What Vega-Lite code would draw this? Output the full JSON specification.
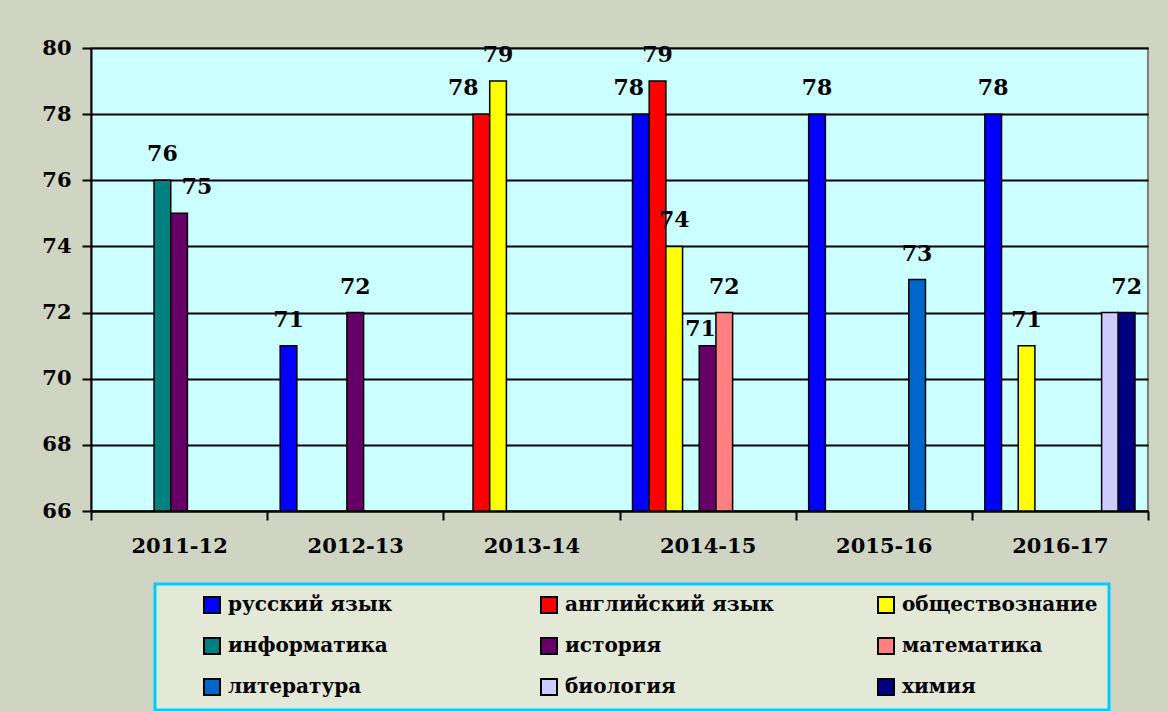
{
  "$schema": "https://vega.github.io/schema/vega-lite/v6.json",
  "width": 1057,
  "height": 463,
  "autosize": {"type": "none"},
  "padding": {"left": 91, "top": 48, "right": 20, "bottom": 200},
  "background": "#CFD4C3",
  "config": {
    "font": "DejaVu Serif",
    "view": {"fill": "#CCFFFF", "stroke": "#7F7F7F", "strokeWidth": 2}
  },
  "data": {
    "values": [
      {"year": "2011-12", "subject": "информатика", "score": 76},
      {"year": "2011-12", "subject": "история", "score": 75},
      {"year": "2012-13", "subject": "русский язык", "score": 71},
      {"year": "2012-13", "subject": "история", "score": 72},
      {"year": "2013-14", "subject": "английский язык", "score": 78},
      {"year": "2013-14", "subject": "обществознание", "score": 79},
      {"year": "2014-15", "subject": "русский язык", "score": 78},
      {"year": "2014-15", "subject": "английский язык", "score": 79},
      {"year": "2014-15", "subject": "обществознание", "score": 74},
      {"year": "2014-15", "subject": "история", "score": 71},
      {"year": "2014-15", "subject": "математика", "score": 72},
      {"year": "2015-16", "subject": "русский язык", "score": 78},
      {"year": "2015-16", "subject": "литература", "score": 73},
      {"year": "2016-17", "subject": "русский язык", "score": 78},
      {"year": "2016-17", "subject": "обществознание", "score": 71},
      {"year": "2016-17", "subject": "биология", "score": 72},
      {"year": "2016-17", "subject": "химия", "score": 72}
    ]
  },
  "encoding": {
    "x": {
      "field": "year",
      "type": "nominal",
      "scale": {"paddingInner": 0, "paddingOuter": 0},
      "axis": {
        "title": null,
        "labelAngle": 0,
        "tickBand": "extent",
        "domainColor": "black",
        "domainWidth": 2,
        "tickColor": "black",
        "tickWidth": 2,
        "tickSize": 9,
        "labelFont": "DejaVu Serif",
        "labelFontSize": 21,
        "labelFontWeight": "bold",
        "labelColor": "black",
        "labelPadding": 15,
        "grid": false
      }
    },
    "xOffset": {
      "field": "subject",
      "type": "nominal",
      "scale": {
        "domain": ["русский язык", "английский язык", "обществознание", "информатика", "история", "математика", "литература", "биология", "химия"],
        "paddingInner": 0,
        "paddingOuter": 0.78
      }
    },
    "y": {
      "field": "score",
      "type": "quantitative",
      "scale": {"domain": [66, 80], "nice": false, "zero": false},
      "axis": {
        "title": null,
        "values": [66, 68, 70, 72, 74, 76, 78, 80],
        "tickSize": 9,
        "tickColor": "black",
        "tickWidth": 2,
        "domainColor": "black",
        "domainWidth": 2,
        "grid": true,
        "gridColor": "black",
        "gridWidth": 2,
        "gridOpacity": 1,
        "labelFont": "DejaVu Serif",
        "labelFontSize": 21,
        "labelFontWeight": "bold",
        "labelColor": "black",
        "labelPadding": 11
      }
    }
  },
  "layer": [
    {
      "mark": {"type": "bar", "stroke": "black", "strokeWidth": 1.5},
      "encoding": {
        "y2": {"datum": 66},
        "color": {
          "field": "subject",
          "type": "nominal",
          "scale": {
            "domain": ["русский язык", "информатика", "литература", "английский язык", "история", "биология", "обществознание", "математика", "химия"],
            "range": ["#0000FF", "#008080", "#0066CC", "#FF0000", "#660066", "#CCCCFF", "#FFFF00", "#FF8080", "#000080"]
          },
          "legend": {
            "orient": "none",
            "legendX": 64,
            "legendY": 536,
            "columns": 3,
            "gridAlign": "all",
            "title": " ",
            "titleOrient": "left",
            "titlePadding": 36,
            "padding": 11,
            "strokeColor": "#00CCFF",
            "fillColor": "#E3E9D6",
            "symbolType": "square",
            "symbolSize": 256,
            "symbolStrokeColor": "black",
            "symbolStrokeWidth": 2,
            "symbolOpacity": 1,
            "labelFont": "DejaVu Serif",
            "labelFontSize": 20,
            "labelFontWeight": "bold",
            "labelColor": "black",
            "labelOffset": 6,
            "labelLimit": 400,
            "columnPadding": 100,
            "rowPadding": 17,
            "encode": {"legend": {"update": {"strokeWidth": {"value": 3}}}}
          }
        }
      }
    },
    {
      "transform": [
        {"filter": "!((datum.year == '2011-12' && datum.subject == 'история') || (datum.year == '2013-14' && datum.subject == 'английский язык') || (datum.year == '2014-15' && datum.subject == 'русский язык') || (datum.year == '2014-15' && datum.subject == 'история') || (datum.year == '2016-17' && datum.subject == 'биология'))"}
      ],
      "mark": {"type": "text", "font": "DejaVu Serif", "fontSize": 22, "fontWeight": "bold", "color": "black", "baseline": "alphabetic", "dy": -19},
      "encoding": {"text": {"field": "score", "type": "quantitative"}}
    },
    {
      "transform": [{"filter": "datum.year == '2011-12' && datum.subject == 'история'"}],
      "mark": {"type": "text", "font": "DejaVu Serif", "fontSize": 22, "fontWeight": "bold", "color": "black", "baseline": "alphabetic", "dy": -19, "dx": 18},
      "encoding": {"text": {"field": "score", "type": "quantitative"}}
    },
    {
      "transform": [{"filter": "datum.year == '2013-14' && datum.subject == 'английский язык'"}],
      "mark": {"type": "text", "font": "DejaVu Serif", "fontSize": 22, "fontWeight": "bold", "color": "black", "baseline": "alphabetic", "dy": -19, "dx": -18},
      "encoding": {"text": {"field": "score", "type": "quantitative"}}
    },
    {
      "transform": [{"filter": "datum.year == '2014-15' && datum.subject == 'русский язык'"}],
      "mark": {"type": "text", "font": "DejaVu Serif", "fontSize": 22, "fontWeight": "bold", "color": "black", "baseline": "alphabetic", "dy": -19, "dx": -12},
      "encoding": {"text": {"field": "score", "type": "quantitative"}}
    },
    {
      "transform": [{"filter": "datum.year == '2014-15' && datum.subject == 'история'"}],
      "mark": {"type": "text", "font": "DejaVu Serif", "fontSize": 22, "fontWeight": "bold", "color": "black", "baseline": "alphabetic", "dy": -10, "dx": -7},
      "encoding": {"text": {"field": "score", "type": "quantitative"}}
    }
  ]
}
